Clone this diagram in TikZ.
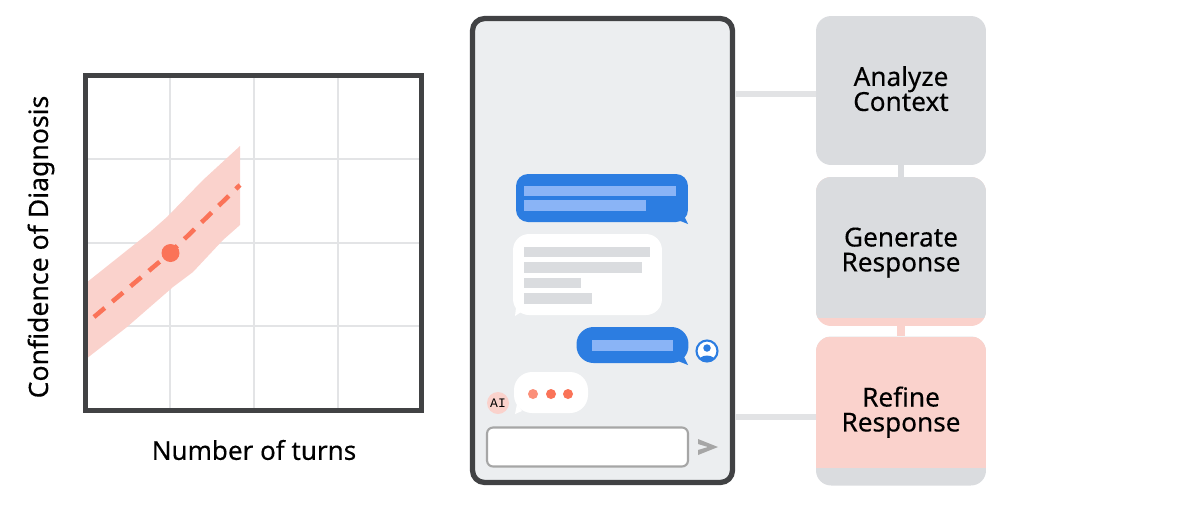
\documentclass[tikz,border=0pt]{standalone}
\usepackage{fontspec}
\setmainfont[FakeBold=0.25]{Noto Sans}
\setmonofont{Liberation Mono}
\definecolor{framegray}{HTML}{414244}
\definecolor{gridgray}{HTML}{E3E4E6}
\definecolor{boxgray}{HTML}{DADCDF}
\definecolor{linkgray}{HTML}{E2E3E5}
\definecolor{screengray}{HTML}{ECEEF0}
\definecolor{salmon}{HTML}{FA7358}
\definecolor{blush}{HTML}{FAD2CC}
\definecolor{chatblue}{HTML}{2C7DE1}
\definecolor{barblue}{HTML}{8AB4F6}
\definecolor{inputgray}{HTML}{A6A6A6}
\lineskiplimit=-5pt
\tikzset{
  stagebox/.style={minimum width=3.4cm, minimum height=2.98cm, rounded corners=0.3cm, align=center, text depth=2.3pt, font=\fontsize{14.9}{14.2}\selectfont},
  bubble/.style={fill=#1, inner sep=0pt},
  link/.style={line width=3.4pt, linkgray},
  axislabel/.style={font=\fontsize{14.8}{17}\selectfont}
}
\begin{document}
\begin{tikzpicture}[x=0.02cm, y=-0.02cm]
  \useasboundingbox (0, 0) rectangle (1200, 512);

  % plot
  \foreach \gx in {170, 254, 338}
    \draw[gridgray, line width=1.5pt] (\gx, 75) -- (\gx, 410);
  \foreach \gy in {159, 243, 326}
    \draw[gridgray, line width=1.5pt] (86, \gy) -- (421, \gy);
  \fill[blush] (86, 283) -- (150, 232) -- (167, 217) -- (203, 180) -- (240, 146)
    -- (240, 225) -- (223, 240) -- (193, 272) -- (173, 287) -- (127, 327) -- (86, 359) -- cycle;
  \draw[salmon, line width=2.6pt, dash pattern=on 8pt off 5.6pt] (94, 317) -- (170, 253) -- (240, 185);
  \fill[salmon] (170.5, 253) circle (0.18cm);
  \draw[framegray, line width=3pt] (85.5, 75.5) rectangle (421.5, 410.5);
  \node[axislabel] (xlabel) at (254, 450) {Number of turns};
  \node[axislabel, rotate=90, font=\fontsize{15.15}{17}\selectfont] (ylabel) at (41, 247) {Confidence of Diagnosis};

  % phone
  \node[draw=framegray, fill=screengray, line width=3pt, rounded corners=0.24cm,
    minimum width=5.2cm, minimum height=9.28cm] (phone) at (602.5, 250.5) {};

  % chat bubbles
  \fill[chatblue] (678, 220) -- (688, 224) -- (682, 212) -- cycle;
  \node[bubble=chatblue, rounded corners=0.24cm, minimum width=3.44cm, minimum height=0.96cm] (first) at (602, 198) {};
  \fill[white] (524, 310) -- (515, 316) -- (517, 300) -- cycle;
  \node[bubble=white, rounded corners=0.32cm, minimum width=2.98cm, minimum height=1.62cm] (reply) at (587.5, 274.5) {};
  \fill[chatblue] (678, 361) -- (688, 365) -- (682, 353) -- cycle;
  \node[bubble=chatblue, rounded corners=0.34cm, minimum width=2.24cm, minimum height=0.72cm] (second) at (632.5, 345) {};
  \fill[white] (522, 411) -- (515, 414) -- (517, 404) -- cycle;
  \node[bubble=white, rounded corners=0.36cm, minimum width=1.48cm, minimum height=0.82cm] (typing) at (551, 392.5) {};

  % text bars
  \fill[barblue] (524, 186) rectangle (676, 196);
  \fill[barblue] (524, 200) rectangle (646, 211);
  \fill[barblue] (592, 340) rectangle (673, 351);
  \fill[boxgray] (524, 247) rectangle (650, 257);
  \fill[boxgray] (524, 262) rectangle (642, 273);
  \fill[boxgray] (524, 278) rectangle (581, 288);
  \fill[boxgray] (524, 293) rectangle (592, 304);

  % typing dots
  \fill[salmon!80!white] (533, 394) circle (0.1cm);
  \fill[salmon] (551, 394) circle (0.1cm);
  \fill[salmon] (568, 394) circle (0.1cm);

  % avatars
  \node[circle, fill=blush, minimum size=0.44cm, inner sep=0pt, font=\fontsize{7.4}{7.4}\ttfamily] (bot) at (498, 403) {AI};
  \node[circle, draw=chatblue, fill=white, line width=1.2pt, minimum size=0.42cm, inner sep=0pt] (user) at (707, 351) {};
  \begin{scope}
    \clip (707, 351) circle (0.21cm);
    \fill[chatblue] (707, 348) circle (0.075cm);
    \fill[chatblue] (707, 363) ellipse (0.19cm and 0.15cm);
  \end{scope}

  % input row
  \node[draw=inputgray, fill=white, line width=1.2pt, rounded corners=0.12cm,
    minimum width=4.02cm, minimum height=0.78cm] (input) at (587.5, 447) {};
  \fill[inputgray] (698, 439) -- (718, 447) -- (698, 455) -- (698, 450) -- (708, 447) -- (698, 444) -- cycle;

  % stages
  \coordinate (phoneTop) at (phone.east |- 0, 94);
  \coordinate (phoneLow) at (phone.east |- 0, 417);
  \node[stagebox, fill=boxgray] (analyze) at (901, 90.5) {Analyze\\Context};
  \node[stagebox, fill=blush, path picture={\fill[boxgray, sharp corners] (path picture bounding box.north west) rectangle ([yshift=0.16cm]path picture bounding box.south east);}] (generate) at (901, 251.5) {Generate\\Response};
  \node[stagebox, fill=boxgray, path picture={\fill[blush, sharp corners] (path picture bounding box.north west) rectangle ([yshift=0.36cm]path picture bounding box.south east);}] (refine) at (901, 411) {Refine\\Response};

  \draw[link] (phoneTop) -- (analyze.west |- phoneTop);
  \draw[link] (phoneLow) -- (refine.west |- phoneLow);
  \draw[link, boxgray] (analyze) -- (generate);
  \draw[blush, line width=5pt] (generate) -- (refine);
\end{tikzpicture}
\end{document}
